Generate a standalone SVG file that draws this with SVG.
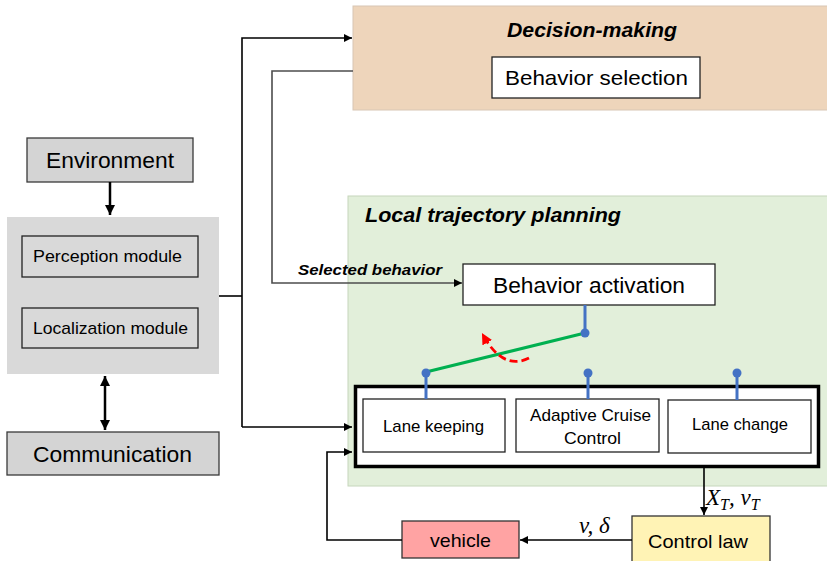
<svg xmlns="http://www.w3.org/2000/svg" width="827" height="561" viewBox="0 0 827 561">
<defs>
<marker id="ah" viewBox="0 0 10 10" refX="10" refY="5" markerWidth="9" markerHeight="8" markerUnits="userSpaceOnUse" orient="auto"><path d="M0,0 L10,5 L0,10 z" fill="#000"/></marker>
<marker id="ahb" viewBox="0 0 10 10" refX="10" refY="5" markerWidth="10" markerHeight="10" markerUnits="userSpaceOnUse" orient="auto-start-reverse"><path d="M0,0 L10,5 L0,10 z" fill="#000"/></marker>
<marker id="ahr" viewBox="0 0 10 10" refX="8" refY="5" markerWidth="11" markerHeight="11" markerUnits="userSpaceOnUse" orient="auto"><path d="M0,0 L10,5 L0,10 z" fill="#ff0000"/></marker>
</defs>
<style>
text{font-family:"Liberation Sans",Arial,sans-serif;fill:#000}
.bi{font-weight:bold;font-style:italic}
.math{font-family:"Liberation Serif","DejaVu Serif",serif;font-style:italic}
.box{fill:#fff;stroke:#222;stroke-width:1.3}
.gbox{fill:#d4d4d4;stroke:#3a3a3a;stroke-width:1.3}
.conn{fill:none;stroke:#000;stroke-width:1.6}
.blue{stroke:#4472c4;stroke-width:3;fill:none}
.dot{fill:#4472c4}
</style>
<rect width="827" height="561" fill="#fff"/>

<g id="decision-making">
<rect x="353" y="6" width="480" height="104" fill="#eed5bb" stroke="#d8c6b4" stroke-width="1"/>
<text x="507" y="37" class="bi" font-size="20" textLength="170" lengthAdjust="spacingAndGlyphs">Decision-making</text>
<g id="behavior-selection">
<rect x="492" y="57" width="208" height="41" class="box"/>
<text x="505" y="85" font-size="21" textLength="183" lengthAdjust="spacingAndGlyphs">Behavior selection</text>
</g>
</g>

<g id="local-trajectory-planning">
<rect x="348" y="196" width="485" height="290" fill="#e2efda" stroke="#c6d6bc" stroke-width="1"/>
<text x="365" y="222" class="bi" font-size="21" textLength="256" lengthAdjust="spacingAndGlyphs">Local trajectory planning</text>
</g>

<g id="behavior-activation">
<rect x="463" y="264" width="252" height="41" class="box"/>
<text x="493" y="293" font-size="22" textLength="192" lengthAdjust="spacingAndGlyphs">Behavior activation</text>
</g>

<g id="behaviors">
<rect x="355.5" y="386.5" width="463" height="80" fill="#fff" stroke="#000" stroke-width="3.5"/>
</g>
<g id="lane-keeping">
<rect x="363" y="399" width="142" height="53" class="box"/>
<text x="383" y="432" font-size="17" textLength="101" lengthAdjust="spacingAndGlyphs">Lane keeping</text>
</g>
<g id="acc">
<rect x="516" y="399" width="143" height="53" class="box"/>
<text x="530" y="421" font-size="17" textLength="121" lengthAdjust="spacingAndGlyphs">Adaptive Cruise</text>
<text x="564" y="444" font-size="17" textLength="57" lengthAdjust="spacingAndGlyphs">Control</text>
</g>
<g id="lane-change">
<rect x="668" y="400" width="143" height="53" class="box"/>
<text x="692" y="430" font-size="17" textLength="96" lengthAdjust="spacingAndGlyphs">Lane change</text>
</g>

<g id="environment">
<rect x="27" y="138" width="166" height="44" class="gbox"/>
<text x="46" y="168" font-size="22" textLength="128" lengthAdjust="spacingAndGlyphs">Environment</text>
</g>

<g id="sensing">
<rect x="7" y="217" width="212" height="157" fill="#d9d9d9"/>
<g id="perception">
<rect x="22" y="236" width="176" height="41" class="box" style="fill:none"/>
<text x="33" y="262" font-size="17" textLength="149" lengthAdjust="spacingAndGlyphs">Perception module</text>
</g>
<g id="localization">
<rect x="22" y="308" width="176" height="40" class="box" style="fill:none"/>
<text x="33" y="334" font-size="17" textLength="155" lengthAdjust="spacingAndGlyphs">Localization module</text>
</g>
</g>

<g id="communication">
<rect x="7" y="432" width="212" height="43" class="gbox"/>
<text x="33" y="462" font-size="22" textLength="159" lengthAdjust="spacingAndGlyphs">Communication</text>
</g>

<g id="vehicle">
<rect x="402" y="521" width="117" height="37" fill="#ffa3a3" stroke="#333" stroke-width="1.3"/>
<text x="430" y="547" font-size="19" textLength="61" lengthAdjust="spacingAndGlyphs">vehicle</text>
</g>

<g id="control-law">
<rect x="632" y="516" width="138" height="50" fill="#fff3b5" stroke="#333" stroke-width="1.3"/>
<text x="648" y="548" font-size="19" textLength="100" lengthAdjust="spacingAndGlyphs">Control law</text>
</g>

<g id="connectors">
<path class="conn" d="M219,296 H242"/>
<path class="conn" d="M242,427 V38 H352" marker-end="url(#ah)"/>
<path class="conn" d="M242,427 H352" marker-end="url(#ah)"/>
<path d="M353,71 H272 V283 H462" fill="none" stroke="#4d4d4d" stroke-width="1.6" marker-end="url(#ah)"/>
<text x="298" y="275" class="bi" font-size="15" textLength="144" lengthAdjust="spacingAndGlyphs">Selected behavior</text>
<path d="M110,182 V215" fill="none" stroke="#000" stroke-width="2.5" marker-end="url(#ahb)"/>
<path d="M105,376 V430" fill="none" stroke="#000" stroke-width="2.5" marker-start="url(#ahb)" marker-end="url(#ahb)"/>
<path class="conn" d="M704,468 V515" marker-end="url(#ah)"/>
<text x="706" y="505" class="math" font-size="23">X<tspan font-size="16" dy="5">T</tspan><tspan dy="-5">, v</tspan><tspan font-size="16" dy="5">T</tspan></text>
<path class="conn" d="M632,540 H520" marker-end="url(#ah)"/>
<text x="579" y="533" class="math" font-size="23">v, δ</text>
<path class="conn" d="M402,540 H327 V452 H352" marker-end="url(#ah)"/>
<!-- switch -->
<path class="blue" d="M585,305 V333"/>
<path d="M426,372 L585,333" stroke="#00b050" stroke-width="3" fill="none"/>
<circle cx="585" cy="333" r="4.5" class="dot"/>
<path class="blue" d="M426,373 V399"/>
<circle cx="426" cy="373" r="4.5" class="dot"/>
<path class="blue" d="M588,373 V399"/>
<circle cx="588" cy="373" r="4.5" class="dot"/>
<path class="blue" d="M737,373 V400"/>
<circle cx="737" cy="373" r="4.5" class="dot"/>
<path d="M529,358 Q503,371 483,335" fill="none" stroke="#ff0000" stroke-width="2.8" stroke-dasharray="8,4" marker-end="url(#ahr)"/>
</g>
</svg>
